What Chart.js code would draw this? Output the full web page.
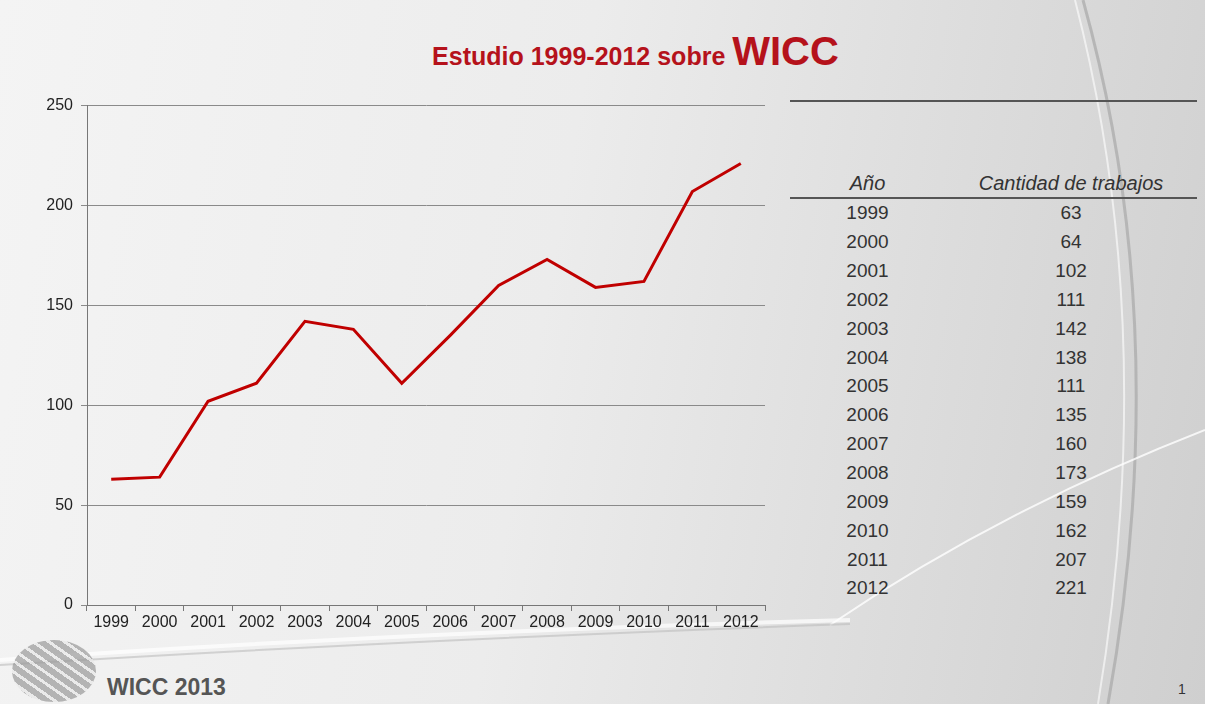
<!DOCTYPE html>
<html>
<head>
<meta charset="utf-8">
<script src="https://cdn.jsdelivr.net/npm/chart.js@4.4.0/dist/chart.umd.min.js"></script>
<style>
    html, body { margin: 0; padding: 0; }
    body {
        width: 1205px; height: 704px; overflow: hidden; position: relative;
        font-family: "Liberation Sans", Arial, sans-serif;
        background: linear-gradient(100deg, #f4f4f4 0%, #ececec 45%, #dcdcdc 75%, #cfcfcf 100%);
    }
    #deco { position: absolute; left: 0; top: 0; }
    #title {
        position: absolute; left: 0; width: 1271px; top: 29px; text-align: center;
        color: #b5121b; font-weight: bold; font-size: 25px;
    }
    #title .big { font-size: 40px; }
    #chartBox { position: absolute; left: 30px; top: 88px; width: 745px; height: 547px; }
    #topRule { position: absolute; left: 790px; top: 100px; width: 407px; border-top: 2px solid #555; }
    #dataTable {
        position: absolute; left: 790px; top: 170px; width: 407px;
        border-collapse: collapse; color: #333; font-size: 19px;
    }
    #dataTable th { font-weight: normal; font-style: italic; height: 25px; border-bottom: 2px solid #555; font-size: 20px; }
    #dataTable td { text-align: center; height: 28.85px; padding: 0; }
    #footer { position: absolute; left: 107px; top: 674px; font-size: 23px; font-weight: bold; color: #555; }
    #pageNum { position: absolute; left: 1178px; top: 681px; font-size: 14px; color: #333; }
    #globe {
        position: absolute; left: 12px; top: 640px; width: 84px; height: 62px; border-radius: 50%;
        background: repeating-linear-gradient(35deg, #9a9a9a 0 6px, #e8e8e8 6px 9px),
                    radial-gradient(circle at 40% 40%, #eee, #888);
        opacity: 0.7;
    }
</style>
</head>
<body>
<svg id="deco" width="1205" height="704">
    <path d="M1083 0 Q1175 330 1108 704" fill="none" stroke="#a8a8a8" stroke-width="3" opacity="0.7"/>
    <path d="M1075 0 Q1160 330 1098 704" fill="none" stroke="#ffffff" stroke-width="2" opacity="0.6"/>
    <path d="M830 625 Q1000 510 1205 430" fill="none" stroke="#ffffff" stroke-width="2" opacity="0.8"/>
    <path d="M0 660 Q400 632 850 620" fill="none" stroke="#ffffff" stroke-width="4" opacity="0.7"/>
    <path d="M0 665 Q400 640 850 624" fill="none" stroke="#bdbdbd" stroke-width="2" opacity="0.6"/>
</svg>

<div id="title">Estudio 1999-2012 sobre <span class="big">WICC</span></div>

<div id="chartBox"><canvas id="lineChart"></canvas></div>

<div id="topRule"></div>
<table id="dataTable">
    <thead><tr><th id="hYear"></th><th id="hCount"></th></tr></thead>
    <tbody id="tableBody"></tbody>
</table>

<div id="globe"></div>
<div id="footer">WICC 2013</div>
<div id="pageNum">1</div>

<script>
// Datos del estudio
const years = ['1999', '2000', '2001', '2002', '2003', '2004', '2005', '2006', '2007', '2008', '2009', '2010', '2011', '2012'];
const trabajos = [63, 64, 102, 111, 142, 138, 111, 135, 160, 173, 159, 162, 207, 221];
const yTicks = [0, 50, 100, 150, 200, 250];
const tableHeaders = ['Año', 'Cantidad de trabajos'];

// Build table from the same arrays
document.getElementById('hYear').textContent = tableHeaders[0];
document.getElementById('hCount').textContent = tableHeaders[1];
const body = document.getElementById('tableBody');
years.forEach((y, i) => {
    const tr = document.createElement('tr');
    tr.innerHTML = `<td style="width:155px">${y}</td><td>${trabajos[i]}</td>`;
    body.appendChild(tr);
});

const tickFont = { size: 16, family: '"Liberation Sans", Arial, sans-serif' };

const ctx = document.getElementById('lineChart');
new Chart(ctx, {
    type: 'line',
    data: {
        labels: years,
        datasets: [{
            label: 'Cantidad de trabajos',
            data: trabajos,
            borderColor: '#c00000',
            borderWidth: 3,
            pointRadius: 0,
            tension: 0,
            fill: false
        }]
    },
    options: {
        responsive: true,
        maintainAspectRatio: false,
        animation: false,
        layout: { padding: { top: 1, right: 10, left: 0, bottom: 0 } },
        plugins: {
            legend: { display: false },
            tooltip: { enabled: false }
        },
        scales: {
            x: {
                offset: true,
                grid: {
                    display: true,
                    drawOnChartArea: false,
                    offset: true,
                    color: '#777',
                    tickLength: 6
                },
                border: { display: true, color: '#777', width: 1 },
                ticks: {
                    color: '#222',
                    padding: 2,
                    maxRotation: 0,
                    autoSkip: false,
                    font: tickFont
                },
                afterFit: function(scale) { scale.height = 30; }
            },
            y: {
                min: 0,
                max: 250,
                afterBuildTicks: function(scale) {
                    scale.ticks = yTicks.map(v => ({ value: v }));
                },
                grid: {
                    color: '#8a8a8a',
                    lineWidth: 1,
                    tickLength: 6
                },
                border: { display: true, color: '#777', width: 1 },
                ticks: {
                    color: '#222',
                    padding: 8,
                    font: tickFont
                },
                afterFit: function(scale) { scale.width = 57; }
            }
        }
    }
});
</script>
</body>
</html>
